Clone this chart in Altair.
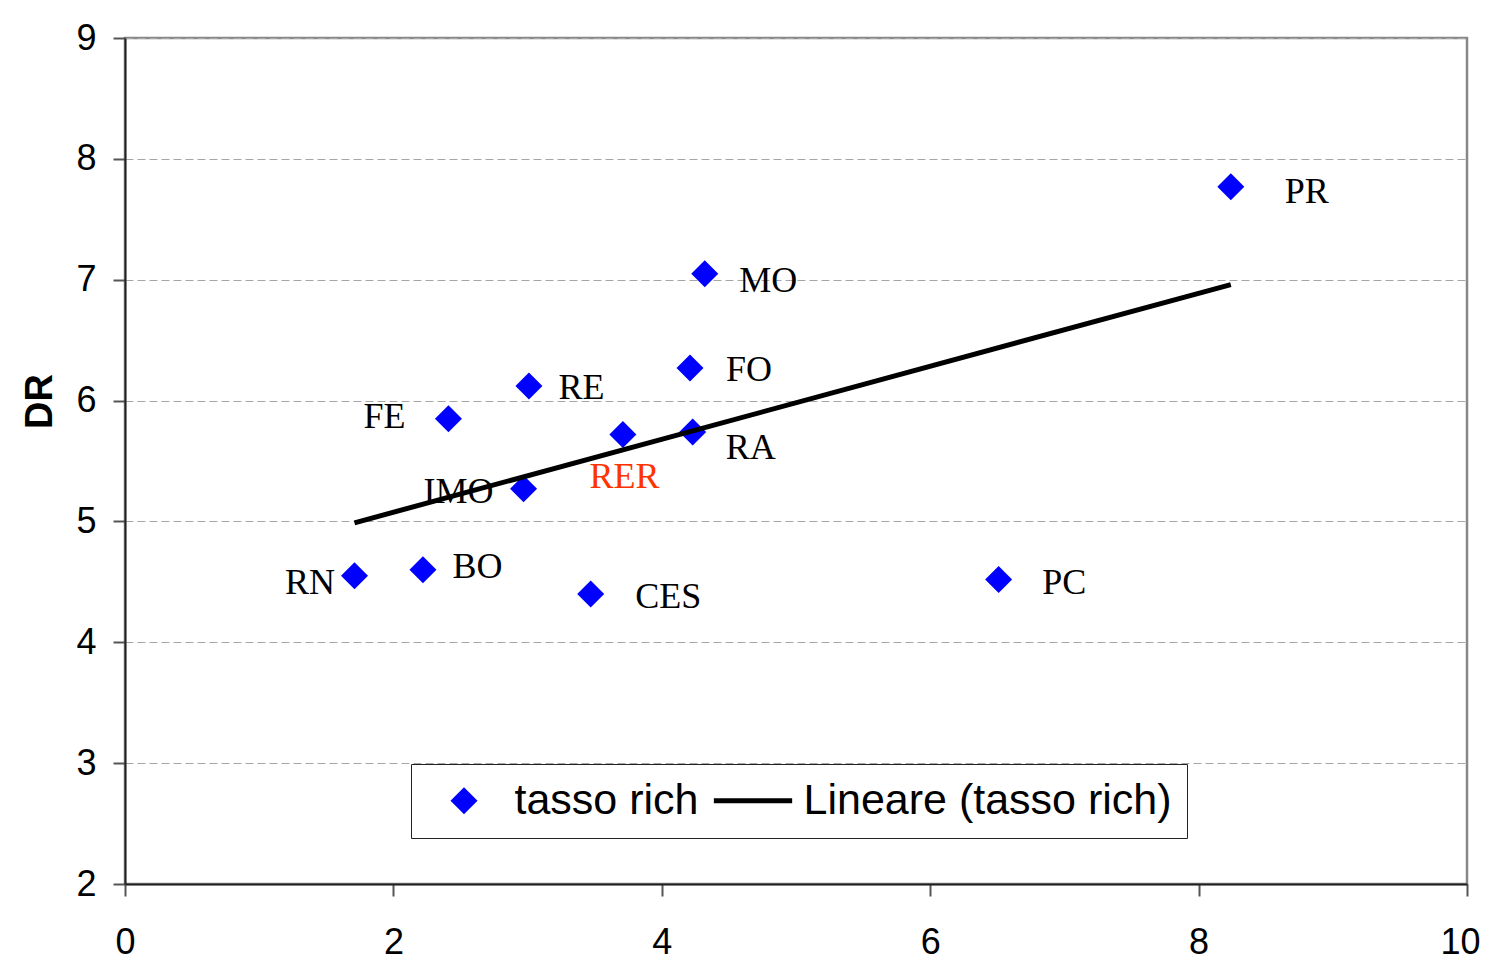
import altair as alt
import pandas as pd

# ---- data ----
names = ["PR", "MO", "FO", "RE", "FE", "RA", "RER", "IMO", "RN", "BO", "CES", "PC"]
tasso_rich = [8.24, 4.32, 4.21, 3.01, 2.41, 4.23, 3.71, 2.97, 1.71, 2.22, 3.47, 6.51]
dr_values = [7.77, 7.05, 6.27, 6.12, 5.85, 5.74, 5.72, 5.27, 4.55, 4.60, 4.40, 4.52]
series_names = ["tasso rich", "Lineare (tasso rich)"]
x_ticks = [0, 2, 4, 6, 8, 10]
y_ticks = [2, 3, 4, 5, 6, 7, 8, 9]

# ---- layout of the point labels (align, dx, dy in px) ----
LABEL_LAYOUT = {
    "PR": ("left", 54, 5),
    "MO": ("left", 34.5, 7),
    "FO": ("left", 36, 2.5),
    "RE": ("left", 29.5, 2),
    "FE": ("right", -43, -1.5),
    "RA": ("left", 33, 16),
    "RER": ("center", 1.5, 43),
    "IMO": ("right", -30, 3.5),
    "RN": ("right", -19.5, 7),
    "BO": ("left", 29.5, -2.5),
    "CES": ("left", 44.5, 3.5),
    "PC": ("left", 43.5, 3.5),
}
LABEL_COLORS = {"RER": "#ff3300"}

df = pd.DataFrame({"name": names, "x": tasso_rich, "y": dr_values})
df["series"] = series_names[0]

LINE_PATH = "M-2.9,-0.18L2.9,-0.18L2.9,0.18L-2.9,0.18Z"

x_plain = alt.X("x:Q", scale=alt.Scale(domain=[0, 10], nice=False, zero=False))
y_plain = alt.Y("y:Q", scale=alt.Scale(domain=[2, 9], nice=False, zero=False))

x_enc = alt.X(
    "x:Q",
    scale=alt.Scale(domain=[0, 10], nice=False, zero=False),
    axis=alt.Axis(
        values=x_ticks,
        format="d",
        grid=False,
        title=None,
        labelPadding=29,
        labelFlush=False,
        labelOffset={"condition": {"test": "datum.value == 10", "value": -7}, "value": 0},
    ),
)
y_enc = alt.Y(
    "y:Q",
    scale=alt.Scale(domain=[2, 9], nice=False, zero=False),
    axis=alt.Axis(
        values=y_ticks,
        format="d",
        labelFlush=False,
        grid=True,
        gridDash=[8, 4],
        gridColor="#a6a6a6",
        gridWidth=1,
        labelPadding=17,
        title="DR",
        titleFont="Liberation Sans",
        titleFontWeight="bold",
        titleFontSize=38,
        titleColor="#000000",
        titleAngle=270,
        titleAlign="center",
        titleBaseline="middle",
        titleX=-85,
        titleY=363,
    ),
)

legend = alt.Legend(
    title=None,
    orient="none",
    direction="horizontal",
    legendX=286,
    legendY=726,
    padding=15,
    fillColor="#ffffff",
    strokeColor="#222222",
    labelFont="Liberation Sans",
    labelFontSize=43,
    labelColor="#000000",
    labelLimit=1000,
    labelOffset=29,
    symbolOffset=16.5,
    symbolSize=729,
    symbolStrokeWidth=0,
    symbolOpacity=1,
    columnPadding=14,
)

points = alt.Chart(df).mark_point(filled=True, size=729, opacity=1).encode(
    x=x_enc,
    y=y_enc,
    color=alt.Color(
        "series:N",
        scale=alt.Scale(domain=series_names, range=["#0000ff", "#000000"]),
        legend=legend,
    ),
    shape=alt.Shape(
        "series:N",
        scale=alt.Scale(domain=series_names, range=["diamond", LINE_PATH]),
        legend=legend,
    ),
)

text_layers = []
for n in names:
    align, dx, dy = LABEL_LAYOUT[n]
    text_layers.append(
        alt.Chart(df)
        .transform_filter(alt.datum.name == n)
        .mark_text(
            align=align,
            baseline="middle",
            dx=dx,
            dy=dy,
            font="Liberation Serif",
            fontSize=36,
            color=LABEL_COLORS.get(n, "#000000"),
        )
        .encode(x=x_plain, y=y_plain, text="name:N")
    )

trend = (
    alt.Chart(df)
    .transform_regression("x", "y")
    .mark_line(color="#000000", strokeWidth=5)
    .encode(x=x_plain, y=y_plain)
)

chart = (
    alt.layer(points, *text_layers, trend)
    .properties(
        width=1342,
        height=846,
        autosize=alt.AutoSizeParams(type="none"),
        padding={"left": 117, "top": 30, "right": 15, "bottom": 85},
        background="#ffffff",
    )
    .configure_view(stroke="#888888", strokeWidth=2.5)
    .configure_axis(
        labelFont="Liberation Sans",
        labelFontSize=36,
        labelColor="#000000",
        domainColor="#222222",
        domainWidth=2,
        tickColor="#555555",
        tickWidth=2,
        tickSize=12,
    )
)

chart.save("out.html", embed_options={"renderer": "svg", "actions": False})
